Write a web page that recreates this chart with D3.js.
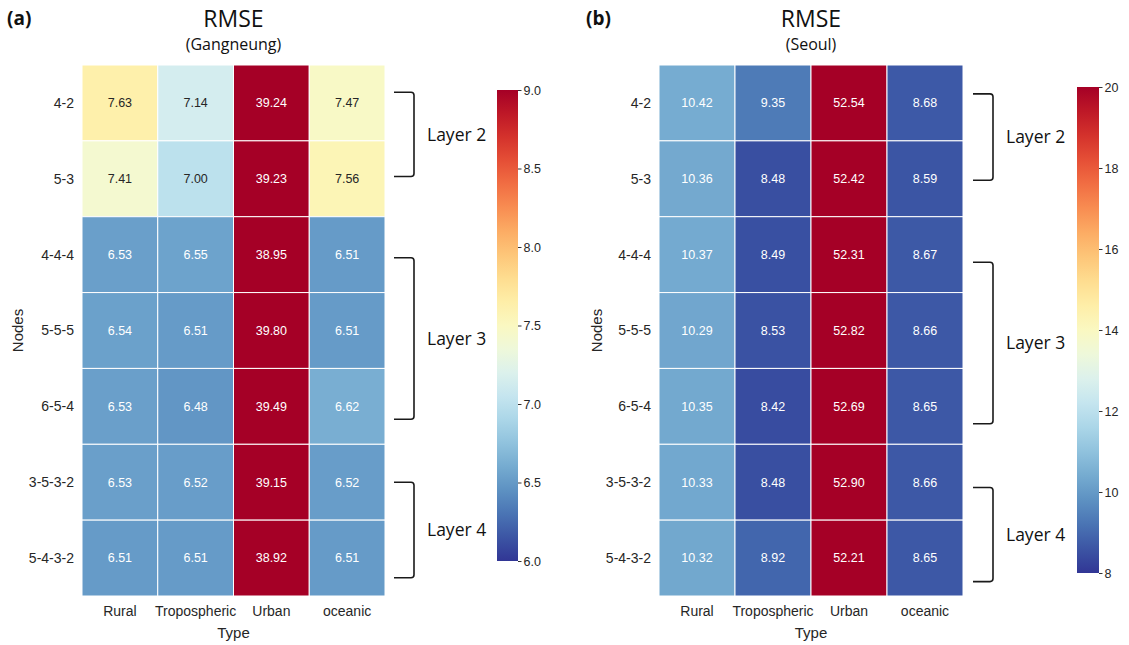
<!DOCTYPE html>
<html>
<head>
<meta charset="utf-8">
<script src="https://cdn.jsdelivr.net/npm/d3@7/dist/d3.min.js"></script>
<style>
  html, body { margin: 0; padding: 0; background: #fff; }
  svg { display: block; }
  .tick-lab { font-family: "Liberation Sans", Arial, sans-serif; fill: #262626; }
  .title { font-family: "Open Sans", "Noto Sans", sans-serif; fill: #111; }
</style>
</head>
<body>
<svg id="chart" width="1129" height="645"></svg>
<script>
// Row / column labels
const nodes = ["4-2", "5-3", "4-4-4", "5-5-5", "6-5-4", "3-5-3-2", "5-4-3-2"];
const types = ["Rural", "Tropospheric", "Urban", "oceanic"];

// RMSE values, one row per node configuration (Rural, Tropospheric, Urban, oceanic)
const gangneung = [
  [7.63, 7.14, 39.24, 7.47],
  [7.41, 7.00, 39.23, 7.56],
  [6.53, 6.55, 38.95, 6.51],
  [6.54, 6.51, 39.80, 6.51],
  [6.53, 6.48, 39.49, 6.62],
  [6.53, 6.52, 39.15, 6.52],
  [6.51, 6.51, 38.92, 6.51]
];
const seoul = [
  [10.42, 9.35, 52.54, 8.68],
  [10.36, 8.48, 52.42, 8.59],
  [10.37, 8.49, 52.31, 8.67],
  [10.29, 8.53, 52.82, 8.66],
  [10.35, 8.42, 52.69, 8.65],
  [10.33, 8.48, 52.90, 8.66],
  [10.32, 8.92, 52.21, 8.65]
];

// Colour ranges and colourbar ticks
const gangneungRange = [6, 9];
const seoulRange = [8, 20];
const gangneungTicks = [6.0, 6.5, 7.0, 7.5, 8.0, 8.5, 9.0];
const seoulTicks = [8, 10, 12, 14, 16, 18, 20];

// Layer groupings (span in row units)
const layersA = [
  { label: "Layer 2", from: 0.36, to: 1.47 },
  { label: "Layer 3", from: 2.54, to: 4.67 },
  { label: "Layer 4", from: 5.50, to: 6.76 }
];
const layersB = [
  { label: "Layer 2", from: 0.38, to: 1.52 },
  { label: "Layer 3", from: 2.60, to: 4.73 },
  { label: "Layer 4", from: 5.57, to: 6.81 }
];

const svg = d3.select("#chart");

function luminance(c) {
  const rgb = d3.rgb(c);
  const f = v => { v /= 255; return v <= 0.03928 ? v / 12.92 : Math.pow((v + 0.055) / 1.055, 2.4); };
  return 0.2126 * f(rgb.r) + 0.7152 * f(rgb.g) + 0.0722 * f(rgb.b);
}

function panel(opts) {
  const g = svg.append("g");
  const x = d3.scaleBand().domain(types).range([opts.x0, opts.x1]);
  const y = d3.scaleBand().domain(nodes).range([65, 596]);
  const color = d3.scaleSequential(t => d3.interpolateRdYlBu(1 - t))
    .domain(opts.range).clamp(true);

  const cells = [];
  opts.data.forEach((row, i) => row.forEach((v, j) => cells.push({ node: nodes[i], type: types[j], v })));

  g.selectAll("rect.cell").data(cells).join("rect")
    .attr("class", "cell")
    .attr("x", d => x(d.type)).attr("y", d => y(d.node))
    .attr("width", x.bandwidth()).attr("height", y.bandwidth())
    .attr("fill", d => color(d.v))
    .attr("stroke", "#fff").attr("stroke-width", 1);

  g.selectAll("text.val").data(cells).join("text")
    .attr("class", "val")
    .attr("x", d => x(d.type) + x.bandwidth() / 2)
    .attr("y", d => y(d.node) + y.bandwidth() / 2)
    .attr("dy", "0.35em")
    .attr("text-anchor", "middle")
    .attr("font-family", "'Liberation Sans', Arial, sans-serif")
    .attr("font-size", 12.5)
    .attr("fill", d => luminance(color(d.v)) < 0.408 ? "#ffffff" : "#262626")
    .text(d => d.v.toFixed(2));

  // Row labels
  g.selectAll("text.rowlab").data(nodes).join("text")
    .attr("class", "tick-lab rowlab")
    .attr("x", opts.x0 - 8)
    .attr("y", d => y(d) + y.bandwidth() / 2)
    .attr("dy", "0.35em").attr("text-anchor", "end").attr("font-size", 14)
    .text(d => d);

  // Column labels
  g.selectAll("text.collab").data(types).join("text")
    .attr("class", "tick-lab collab")
    .attr("x", d => x(d) + x.bandwidth() / 2)
    .attr("y", 611).attr("dy", "0.35em").attr("text-anchor", "middle").attr("font-size", 14)
    .text(d => d);

  g.append("text").attr("class", "tick-lab")
    .attr("x", (opts.x0 + opts.x1) / 2).attr("y", 633).attr("dy", "0.35em")
    .attr("text-anchor", "middle").attr("font-size", 15).text("Type");

  g.append("text").attr("class", "tick-lab")
    .attr("transform", `translate(${opts.nodesX},${(65 + 596) / 2}) rotate(-90)`)
    .attr("dy", "0.35em").attr("text-anchor", "middle").attr("font-size", 15).text("Nodes");

  // Titles
  const cx = (opts.x0 + opts.x1) / 2;
  g.append("text").attr("class", "title").attr("x", cx).attr("y", 27)
    .attr("text-anchor", "middle").attr("font-size", 23).text("RMSE");
  g.append("text").attr("class", "title").attr("x", cx).attr("y", 50)
    .attr("text-anchor", "middle").attr("font-size", 16).text(opts.subtitle);
  g.append("text").attr("class", "title").attr("x", opts.tagX).attr("y", 25)
    .attr("font-size", 19).attr("font-weight", "bold").text(opts.tag);

  // Layer brackets
  const top = y.range()[0], bw = y.step();
  opts.layers.forEach(L => {
    const ya = top + L.from * bw, yb = top + L.to * bw;
    const bx0 = opts.x1 + opts.brOff, bx1 = bx0 + 20, r = 3;
    g.append("path")
      .attr("d", `M${bx0},${ya} L${bx1 - r},${ya} Q${bx1},${ya} ${bx1},${ya + r} L${bx1},${yb - r} Q${bx1},${yb} ${bx1 - r},${yb} L${bx0},${yb}`)
      .attr("fill", "none").attr("stroke", "#1a1a1a").attr("stroke-width", 1.6);
    g.append("text").attr("class", "title")
      .attr("x", bx1 + 13).attr("y", (ya + yb) / 2).attr("dy", "0.35em")
      .attr("font-size", 17.5).text(L.label);
  });

  // Colourbar
  const cb = opts.cb;
  const cbScale = d3.scaleLinear().domain(opts.range).range([cb.y1, cb.y0]);
  const gradId = "grad-" + opts.tag.replace(/\W/g, "");
  const grad = svg.append("defs").append("linearGradient")
    .attr("id", gradId).attr("x1", 0).attr("y1", 1).attr("x2", 0).attr("y2", 0);
  d3.range(0, 1.0001, 0.05).forEach(t => {
    grad.append("stop").attr("offset", t)
      .attr("stop-color", color(opts.range[0] + t * (opts.range[1] - opts.range[0])));
  });
  g.append("rect").attr("x", cb.x).attr("y", cb.y0).attr("width", cb.w)
    .attr("height", cb.y1 - cb.y0).attr("fill", `url(#${gradId})`);
  const axis = g.append("g").attr("transform", `translate(${cb.x + cb.w},0)`)
    .call(d3.axisRight(cbScale).tickValues(opts.ticks).tickSize(3.5).tickPadding(2)
      .tickFormat(opts.fmt));
  axis.select(".domain").remove();
  axis.selectAll(".tick line").attr("stroke", "#333");
  axis.selectAll(".tick text").attr("class", "tick-lab").attr("font-size", 12.5)
    .attr("fill", "#333");
}

panel({
  data: gangneung, range: gangneungRange, ticks: gangneungTicks, fmt: d3.format(".1f"),
  x0: 82, x1: 385, nodesX: 18, subtitle: "(Gangneung)", tag: "(a)", tagX: 7,
  layers: layersA, brOff: 9,
  cb: { x: 497, w: 21, y0: 90, y1: 561 }
});
panel({
  data: seoul, range: seoulRange, ticks: seoulTicks, fmt: d3.format("d"),
  x0: 659, x1: 963, nodesX: 597, subtitle: "(Seoul)", tag: "(b)", tagX: 586,
  layers: layersB, brOff: 10,
  cb: { x: 1077, w: 22, y0: 87, y1: 573 }
});
</script>
</body>
</html>
